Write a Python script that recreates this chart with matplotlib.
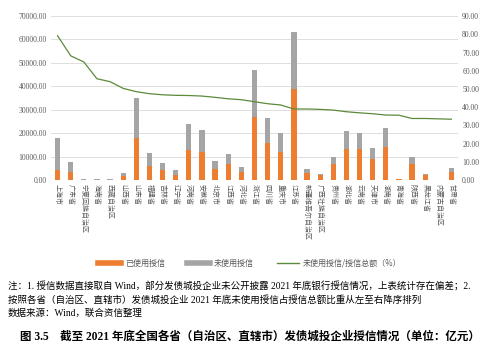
import matplotlib
matplotlib.use("Agg")
import matplotlib.pyplot as plt
import numpy as np
from matplotlib.lines import Line2D

plt.rcParams['font.family'] = ['Liberation Serif', 'Noto Sans CJK SC', 'DejaVu Sans']

provinces = ["上海市", "广东省", "宁夏回族自治区", "海南省", "西藏自治区", "山西省", "山东省",
             "福建省", "吉林省", "辽宁省", "河南省", "安徽省", "北京市", "江西省", "河北省",
             "浙江省", "四川省", "重庆市", "江苏省", "新疆维吾尔自治区", "广西壮族自治区",
             "贵州省", "湖北省", "云南省", "天津市", "湖南省", "青海省", "陕西省", "黑龙江省",
             "内蒙古自治区", "甘肃省"]
total_credit = [18000, 7800, 300, 500, 300, 3100, 35100, 11400, 7250, 4200, 23900, 21300,
                8100, 11100, 5700, 47000, 26600, 19900, 63300, 4850, 2500, 9950, 20900,
                20200, 13500, 22050, 500, 9650, 2400, 200, 5250]
used_credit = [4200, 3300, 100, 150, 80, 1800, 18050, 6100, 4270, 2300, 12800, 11800,
               4550, 6800, 3300, 27000, 15650, 12100, 39000, 2850, 2000, 6700, 13100,
               13100, 8800, 14200, 330, 6800, 2200, 130, 3550]
unused_ratio = [79.2, 68.2, 64.8, 55.6, 54.0, 50.3, 48.5, 47.4, 46.8, 46.5, 46.4, 46.1,
                45.4, 44.6, 44.1, 43.0, 41.9, 41.2, 39.0, 39.0, 38.8, 38.4, 37.5, 36.9,
                36.4, 35.7, 35.6, 33.8, 33.8, 33.6, 33.4]
left_ticks = [0, 10000, 20000, 30000, 40000, 50000, 60000, 70000]
right_ticks = [0, 10, 20, 30, 40, 50, 60, 70, 80, 90]

total = np.array(total_credit, dtype=float)
used = np.array(used_credit, dtype=float)
unused = total - used
x = np.arange(len(provinces))

orange = '#ED7D31'
gray = '#A5A5A5'
green = '#5B8A3A'
tick_col = '#595959'

fig = plt.figure(figsize=(5.0, 3.49), dpi=100)
ax = fig.add_axes([0.102, 0.484, 0.814, 0.47])
ax.bar(x, used, width=0.4, color=orange, zorder=3)
ax.bar(x, unused, bottom=used, width=0.4, color=gray, zorder=3)
ax.set_ylim(0, 70000)
ax.set_xlim(-0.5, len(provinces) - 0.5)
ax.set_yticks(left_ticks)
ax.set_yticklabels([f"{v:.2f}" for v in left_ticks], fontsize=5.5, color=tick_col)
ax.grid(axis='y', color='#D9D9D9', linewidth=0.6, zorder=0)
ax.set_xticks(x)
ax.set_xticklabels(provinces, rotation=-90, fontsize=5, color=tick_col,
                   family=['Noto Sans CJK SC'], va='top', ha='center')
ax.tick_params(axis='both', length=0, pad=3)
for s in ax.spines.values():
    s.set_visible(False)

ax2 = ax.twinx()
ax2.plot(x, unused_ratio, color=green, linewidth=0.9, zorder=4)
ax2.set_ylim(0, 90)
ax2.set_yticks(right_ticks)
ax2.set_yticklabels([f"{v:.2f}" for v in right_ticks], fontsize=5.5, color=tick_col)
ax2.tick_params(axis='both', length=0, pad=3)
for s in ax2.spines.values():
    s.set_visible(False)

handles = [Line2D([0], [0], color=orange, linewidth=4),
           Line2D([0], [0], color=gray, linewidth=4),
           Line2D([0], [0], color=green, linewidth=1)]
labels = ["已使用授信", "未使用授信", "未使用授信/授信总额（%）"]
fig.legend(handles, labels, loc='center', bbox_to_anchor=(0.5, 1 - 263 / 349), ncol=3,
           frameon=False, prop={'family': ['Noto Sans CJK SC'], 'size': 5.8},
           handlelength=2.8, columnspacing=2.8, handletextpad=0.5, labelcolor=tick_col)

note_font = ['Liberation Serif', 'Noto Sans CJK SC']
fig.text(0.016, 1 - 287 / 349, "注：1. 授信数据直接取自 Wind，部分发债城投企业未公开披露 2021 年底银行授信情况，上表统计存在偏差；2.",
         fontsize=6.85, family=note_font, va='center', ha='left')
fig.text(0.016, 1 - 300 / 349, "按照各省（自治区、直辖市）发债城投企业 2021 年底未使用授信占授信总额比重从左至右降序排列",
         fontsize=6.85, family=note_font, va='center', ha='left')
fig.text(0.016, 1 - 313 / 349, "数据来源：Wind，联合资信整理",
         fontsize=6.85, family=note_font, va='center', ha='left')
fig.text(0.5, 1 - 337 / 349, "图 3.5　截至 2021 年底全国各省（自治区、直辖市）发债城投企业授信情况（单位：亿元）",
         fontsize=8.3, family=note_font, weight='bold', va='center', ha='center')

fig.savefig('out.png', dpi=100)
